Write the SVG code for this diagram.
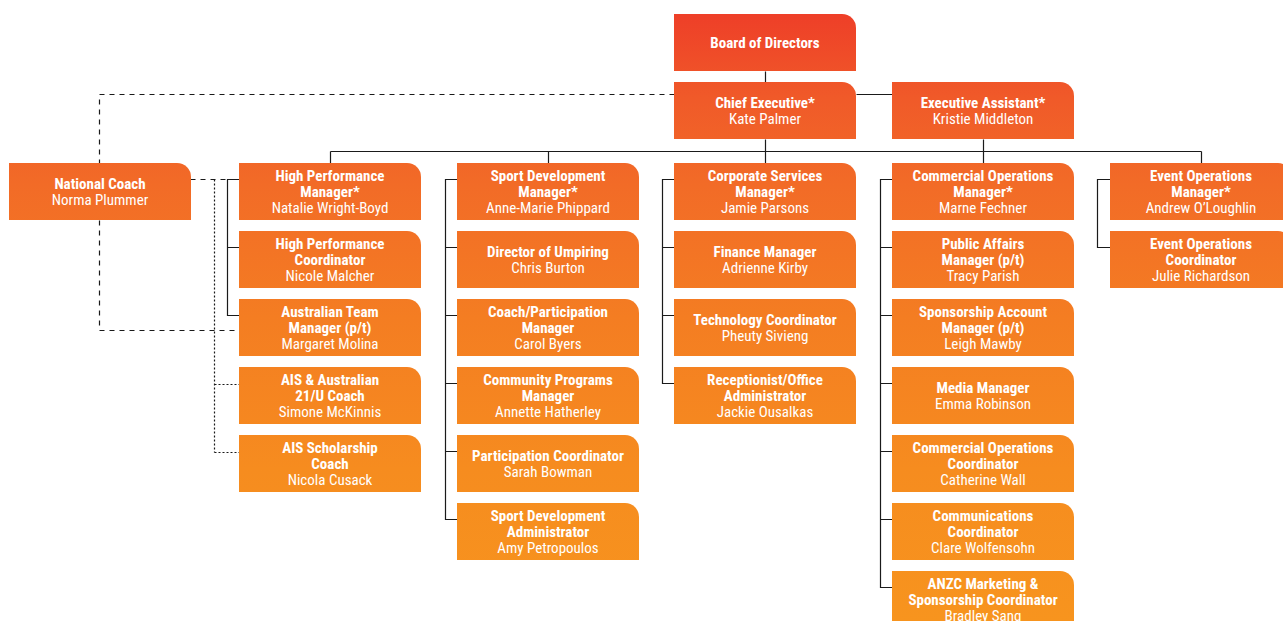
<svg xmlns="http://www.w3.org/2000/svg" width="1283" height="621" viewBox="0 0 1283 621">
<defs>
<linearGradient id="g" gradientUnits="userSpaceOnUse" x1="0" y1="14" x2="0" y2="621">
<stop offset="0" stop-color="#EE3F28"/>
<stop offset="0.14" stop-color="#F05A29"/>
<stop offset="0.28" stop-color="#F26B27"/>
<stop offset="0.5" stop-color="#F47D22"/>
<stop offset="0.75" stop-color="#F68C1F"/>
<stop offset="1" stop-color="#F7941E"/>
</linearGradient>
<style>
.b{fill:url(#g)}
text{font-family:"Liberation Sans Narrow","Roboto Condensed","DejaVu Sans Condensed","Liberation Sans",sans-serif;font-size:15px;fill:#fff;text-anchor:middle}
.t{font-weight:bold}
.c{fill:none;stroke:#1A1A1A;stroke-width:1.2}
.d{fill:none;stroke:#1A1A1A;stroke-width:1.2;stroke-dasharray:5 5}
.o{fill:none;stroke:#1A1A1A;stroke-width:1.2;stroke-dasharray:2 2}
</style>
</defs>
<g id="connectors" transform="translate(0.5,0.5)">
<path class="c" d="M765,71V82M856,94H892M765,139V151M983,139V151M330,151H1201M330,151V163M548,151V163M765,151V163M983,151V163M1201,151V163"/>
<path class="c" d="M239,179H227V315H239M227,247H239"/>
<path class="c" d="M457,179H445V519H457M445,247H457M445,315H457M445,383H457M445,451H457"/>
<path class="c" d="M674,179H662V383H674M662,247H674M662,315H674"/>
<path class="c" d="M892,179H880V587H892M880,247H892M880,315H892M880,383H892M880,451H892M880,519H892"/>
<path class="c" d="M1110,179H1097V247H1110"/>
<path class="d" d="M674,94H99V163M99,220V330H239M190,179H239"/>
<path class="o" d="M214,179V452M214,384H239M214,452H239"/>
</g>
<g id="board"><path class="b" d="M674,14h168a14,14 0 0 1 14,14v43h-182z"/><text class="t" x="765" y="48">Board of Directors</text></g>
<g id="ceo"><path class="b" d="M674,82h168a14,14 0 0 1 14,14v43h-182z"/><text class="t" x="765" y="108">Chief Executive*</text><text x="765" y="124">Kate Palmer</text></g>
<g id="ea"><path class="b" d="M892,82h168a14,14 0 0 1 14,14v43h-182z"/><text class="t" x="983" y="108">Executive Assistant*</text><text x="983" y="124">Kristie Middleton</text></g>
<g id="national-coach"><path class="b" d="M9,163h168a14,14 0 0 1 14,14v43h-182z"/><text class="t" x="100" y="189">National Coach</text><text x="100" y="205">Norma Plummer</text></g>

<g id="hp-manager"><path class="b" d="M239,163h168a14,14 0 0 1 14,14v43h-182z"/><text class="t" x="330" y="181">High Performance</text><text class="t" x="330" y="197">Manager*</text><text x="330" y="213">Natalie Wright-Boyd</text></g>
<g id="hp-coord"><path class="b" d="M239,231h168a14,14 0 0 1 14,14v43h-182z"/><text class="t" x="330" y="249">High Performance</text><text class="t" x="330" y="265">Coordinator</text><text x="330" y="281">Nicole Malcher</text></g>
<g id="team-manager"><path class="b" d="M239,299h168a14,14 0 0 1 14,14v43h-182z"/><text class="t" x="330" y="317">Australian Team</text><text class="t" x="330" y="333">Manager (p/t)</text><text x="330" y="349">Margaret Molina</text></g>
<g id="ais-coach"><path class="b" d="M239,367h168a14,14 0 0 1 14,14v43h-182z"/><text class="t" x="330" y="385">AIS &amp; Australian</text><text class="t" x="330" y="401">21/U Coach</text><text x="330" y="417">Simone McKinnis</text></g>
<g id="ais-scholar"><path class="b" d="M239,435h168a14,14 0 0 1 14,14v43h-182z"/><text class="t" x="330" y="453">AIS Scholarship</text><text class="t" x="330" y="469">Coach</text><text x="330" y="485">Nicola Cusack</text></g>

<g id="sd-manager"><path class="b" d="M457,163h168a14,14 0 0 1 14,14v43h-182z"/><text class="t" x="548" y="181">Sport Development</text><text class="t" x="548" y="197">Manager*</text><text x="548" y="213">Anne-Marie Phippard</text></g>
<g id="umpiring"><path class="b" d="M457,231h168a14,14 0 0 1 14,14v43h-182z"/><text class="t" x="548" y="257">Director of Umpiring</text><text x="548" y="273">Chris Burton</text></g>
<g id="coach-part"><path class="b" d="M457,299h168a14,14 0 0 1 14,14v43h-182z"/><text class="t" x="548" y="317">Coach/Participation</text><text class="t" x="548" y="333">Manager</text><text x="548" y="349">Carol Byers</text></g>
<g id="community"><path class="b" d="M457,367h168a14,14 0 0 1 14,14v43h-182z"/><text class="t" x="548" y="385">Community Programs</text><text class="t" x="548" y="401">Manager</text><text x="548" y="417">Annette Hatherley</text></g>
<g id="part-coord"><path class="b" d="M457,435h168a14,14 0 0 1 14,14v43h-182z"/><text class="t" x="548" y="461">Participation Coordinator</text><text x="548" y="477">Sarah Bowman</text></g>
<g id="sd-admin"><path class="b" d="M457,503h168a14,14 0 0 1 14,14v43h-182z"/><text class="t" x="548" y="521">Sport Development</text><text class="t" x="548" y="537">Administrator</text><text x="548" y="553">Amy Petropoulos</text></g>

<g id="cs-manager"><path class="b" d="M674,163h168a14,14 0 0 1 14,14v43h-182z"/><text class="t" x="765" y="181">Corporate Services</text><text class="t" x="765" y="197">Manager*</text><text x="765" y="213">Jamie Parsons</text></g>
<g id="finance"><path class="b" d="M674,231h168a14,14 0 0 1 14,14v43h-182z"/><text class="t" x="765" y="257">Finance Manager</text><text x="765" y="273">Adrienne Kirby</text></g>
<g id="tech"><path class="b" d="M674,299h168a14,14 0 0 1 14,14v43h-182z"/><text class="t" x="765" y="325">Technology Coordinator</text><text x="765" y="341">Pheuty Sivieng</text></g>
<g id="reception"><path class="b" d="M674,367h168a14,14 0 0 1 14,14v43h-182z"/><text class="t" x="765" y="385">Receptionist/Office</text><text class="t" x="765" y="401">Administrator</text><text x="765" y="417">Jackie Ousalkas</text></g>

<g id="co-manager"><path class="b" d="M892,163h168a14,14 0 0 1 14,14v43h-182z"/><text class="t" x="983" y="181">Commercial Operations</text><text class="t" x="983" y="197">Manager*</text><text x="983" y="213">Marne Fechner</text></g>
<g id="public-affairs"><path class="b" d="M892,231h168a14,14 0 0 1 14,14v43h-182z"/><text class="t" x="983" y="249">Public Affairs</text><text class="t" x="983" y="265">Manager (p/t)</text><text x="983" y="281">Tracy Parish</text></g>
<g id="sponsorship"><path class="b" d="M892,299h168a14,14 0 0 1 14,14v43h-182z"/><text class="t" x="983" y="317">Sponsorship Account</text><text class="t" x="983" y="333">Manager (p/t)</text><text x="983" y="349">Leigh Mawby</text></g>
<g id="media"><path class="b" d="M892,367h168a14,14 0 0 1 14,14v43h-182z"/><text class="t" x="983" y="393">Media Manager</text><text x="983" y="409">Emma Robinson</text></g>
<g id="co-coord"><path class="b" d="M892,435h168a14,14 0 0 1 14,14v43h-182z"/><text class="t" x="983" y="453">Commercial Operations</text><text class="t" x="983" y="469">Coordinator</text><text x="983" y="485">Catherine Wall</text></g>
<g id="comms"><path class="b" d="M892,503h168a14,14 0 0 1 14,14v43h-182z"/><text class="t" x="983" y="521">Communications</text><text class="t" x="983" y="537">Coordinator</text><text x="983" y="553">Clare Wolfensohn</text></g>
<g id="anzc"><path class="b" d="M892,571h168a14,14 0 0 1 14,14v43h-182z"/><text class="t" x="983" y="589">ANZC Marketing &amp;</text><text class="t" x="983" y="605">Sponsorship Coordinator</text><text x="983" y="621">Bradley Sang</text></g>

<g id="eo-manager"><path class="b" d="M1110,163h168a14,14 0 0 1 14,14v43h-182z"/><text class="t" x="1201" y="181">Event Operations</text><text class="t" x="1201" y="197">Manager*</text><text x="1201" y="213">Andrew O’Loughlin</text></g>
<g id="eo-coord"><path class="b" d="M1110,231h168a14,14 0 0 1 14,14v43h-182z"/><text class="t" x="1201" y="249">Event Operations</text><text class="t" x="1201" y="265">Coordinator</text><text x="1201" y="281">Julie Richardson</text></g>
</svg>
